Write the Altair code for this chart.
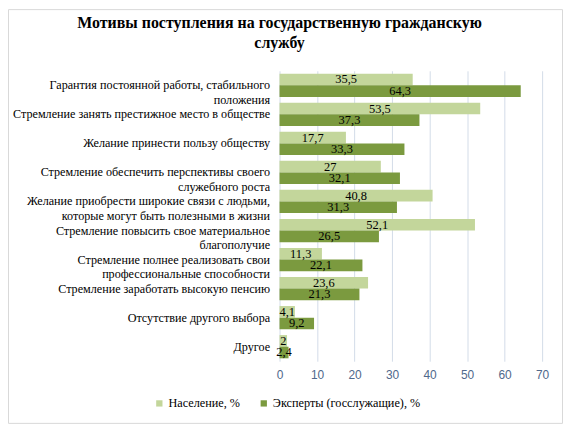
import altair as alt
import pandas as pd

categories = [
    "Гарантия постоянной работы, стабильного\nположения",
    "Стремление занять престижное место в обществе ",
    "Желание принести пользу обществу",
    "Стремление обеспечить перспективы своего\nслужебного роста",
    "Желание приобрести широкие связи с людьми,\nкоторые могут быть полезными в жизни",
    "Стремление повысить свое материальное\nблагополучие",
    "Стремление полнее реализовать свои\nпрофессиональные способности",
    "Стремление заработать высокую пенсию",
    "Отсутствие другого выбора",
    "Другое",
]
population = [35.5, 53.5, 17.7, 27, 40.8, 52.1, 11.3, 23.6, 4.1, 2]
experts = [64.3, 37.3, 33.3, 32.1, 31.3, 26.5, 22.1, 21.3, 9.2, 2.4]
series = ["Население, %", "Эксперты (госслужащие), %"]
x_ticks = [0, 10, 20, 30, 40, 50, 60, 70]
title_lines = ["Мотивы поступления на государственную гражданскую", "службу"]

SERIF = "Liberation Serif"
SANS = "Liberation Sans"
NBSP = "\u00a0"


def center_lines(label):
    # pad shorter lines with no-break spaces so right-aligned lines look centred
    lines = label.split("\n")
    if len(lines) == 1:
        return label
    m = max(len(l) for l in lines)
    return "\n".join(l + NBSP * int(round((m - len(l)) * 1.0)) for l in lines)


cats = [center_lines(c) for c in categories]

rows = []
for c, p, e in zip(cats, population, experts):
    rows.append({"cat": c, "series": series[0], "value": p})
    rows.append({"cat": c, "series": series[1], "value": e})
df = pd.DataFrame(rows)
df["label"] = df["value"].map(lambda v: f"{v:g}".replace(".", ","))
df["mid"] = df["value"] / 2

x_scale = alt.Scale(domain=[0, 70], nice=False, zero=True)
x_axis = alt.Axis(
    values=x_ticks,
    grid=True,
    gridColor="#d3dce8",
    domain=False,
    ticks=False,
    labelFont=SANS,
    labelFontSize=12,
    labelColor="#50698c",
    labelPadding=8,
    labelOverlap=False,
    labelFlush=False,
    title=None,
)

y_enc = alt.Y(
    "cat:N",
    sort=cats,
    title=None,
    scale=alt.Scale(paddingInner=0.2, paddingOuter=0.1),
    axis=alt.Axis(
        labelExpr="split(datum.label, '\\n')",
        labelFont=SERIF,
        labelFontSize=12.2,
        labelColor="black",
        labelPadding=10,
        labelLimit=400,
        labelLineHeight=15,
        labelAlign="right",
        labelBaseline="middle",
        labelOverlap=False,
        ticks=False,
        domain=False,
        grid=False,
    ),
)
yoff = alt.YOffset("series:N", sort=series, scale=alt.Scale(paddingInner=0, paddingOuter=0))

base = alt.Chart(df)

bars = base.mark_bar().encode(
    x=alt.X("value:Q", scale=x_scale, axis=x_axis),
    y=y_enc,
    yOffset=yoff,
    color=alt.Color(
        "series:N",
        sort=series,
        scale=alt.Scale(domain=series, range=["#c3d69b", "#7b9a3f"]),
        legend=alt.Legend(
            orient="none",
            legendX=-127,
            legendY=328,
            direction="horizontal",
            title=None,
            symbolType="square",
            symbolSize=40,
            symbolStrokeWidth=0,
            labelFont=SERIF,
            labelFontSize=12.3,
            labelColor="black",
            labelOffset=3,
            columnPadding=17,
        ),
    ),
)

texts = base.mark_text(
    font=SERIF, fontSize=12.5, color="black", baseline="middle", dy=0
).encode(
    x=alt.X("mid:Q", scale=x_scale, axis=x_axis),
    y=y_enc,
    yOffset=yoff,
    text="label:N",
)

border = alt.Chart(pd.DataFrame({"a": [0]})).mark_rect(
    fill="transparent", stroke="#d9d9d9", strokeWidth=1
).encode(
    x=alt.value(-272.5), x2=alt.value(284.5), y=alt.value(-61.5), y2=alt.value(354.5)
)

chart = alt.layer(border, bars, texts).properties(
    width=264,
    height=292,
    autosize="none",
    padding={"left": 273, "top": 62, "right": 21, "bottom": 63},
    title=alt.TitleParams(
        text=title_lines,
        font=SERIF,
        fontSize=16,
        fontWeight="bold",
        color="black",
        anchor="middle",
        frame="group",
        dx=-132,
        offset=0,
        dy=42,
        lineHeight=20,
    ),
).configure_view(stroke=None)

chart.save("out.html", embed_options={"renderer": "svg", "actions": False})
